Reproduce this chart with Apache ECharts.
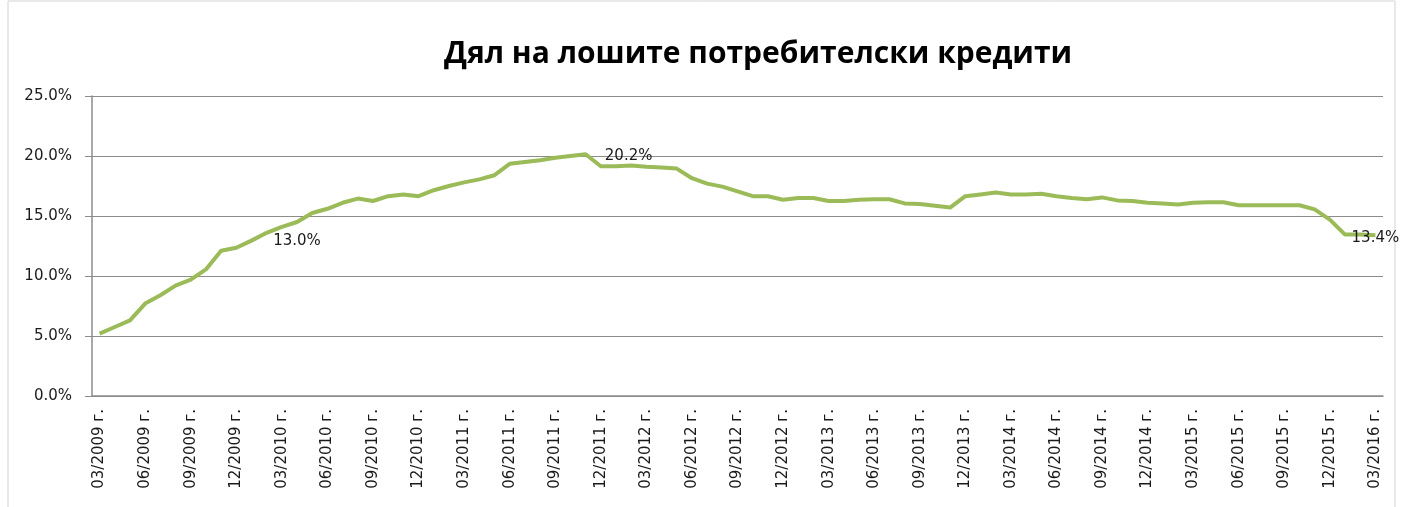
<!DOCTYPE html>
<html>
<head>
<meta charset="utf-8">
<script src="https://cdn.jsdelivr.net/npm/echarts@6/dist/echarts.min.js"></script>
<style>
  html, body { margin: 0; padding: 0; background: #fff; }
  #chart { width: 1402px; height: 507px; }
</style>
</head>
<body>
<div id="chart"></div>
<script>
// monthly, 03/2009 .. 03/2016
const months = [];
for (let y = 2009; y <= 2016; y++) {
    for (let m = 1; m <= 12; m++) {
        if ((y === 2009 && m < 3) || (y === 2016 && m > 3)) continue;
        months.push(String(m).padStart(2, "0") + "/" + y + " г.");
    }
}

// share of bad consumer loans, %
const badLoansShare = [
    5.2, 5.75, 6.3, 7.7, 8.4, 9.2, 9.7, 10.55, 12.1, 12.35, 12.95, 13.6,
    14.1, 14.5, 15.25, 15.6, 16.1, 16.45, 16.25, 16.65, 16.8, 16.65, 17.15, 17.5,
    17.8, 18.05, 18.4, 19.35, 19.5, 19.65, 19.85, 20.0, 20.15, 19.15, 19.15, 19.2,
    19.1, 19.05, 18.95, 18.15, 17.7, 17.45, 17.05, 16.65, 16.65, 16.35, 16.5, 16.5,
    16.25, 16.25, 16.35, 16.4, 16.4, 16.05, 16.0, 15.85, 15.7, 16.65, 16.8, 16.95,
    16.8, 16.8, 16.85, 16.65, 16.5, 16.4, 16.55, 16.3, 16.25, 16.1, 16.05, 15.95,
    16.1, 16.15, 16.15, 15.9, 15.9, 15.9, 15.9, 15.9, 15.55, 14.7, 13.45, 13.45,
    13.4
];

// data labels as they appear on the chart
const labelIndex = [13, 32, 84];
const labelText = ["13.0%", "20.2%", "13.4%"];
const labelOffset = [[0, 19], [43, 2], [0, 3]];

const yTicks = [0, 5, 10, 15, 20, 25];

const chart = echarts.init(document.getElementById("chart"));
const font = "DejaVu Sans";

const seriesData = badLoansShare.map((v, i) => {
    const k = labelIndex.indexOf(i);
    if (k < 0) return v;
    return {
        value: v,
        label: {
            show: true,
            position: "inside",
            offset: labelOffset[k],
            formatter: labelText[k],
            fontFamily: font,
            fontSize: 15,
            color: "#1a1a1a"
        }
    };
});

chart.setOption({
    animation: false,
    title: {
        text: "Дял на лошите потребителски кредити",
        left: 439,
        top: 34,
        textStyle: {
            fontFamily: "Open Sans",
            fontSize: 30,
            fontWeight: "bold",
            color: "#000"
        }
    },
    graphic: [{
        type: "rect",
        shape: { x: 8, y: 1, width: 1387, height: 540 },
        style: { fill: "none", stroke: "#d4d4d4", lineWidth: 1 }
    }],
    grid: { left: 92, right: 19, top: 96, bottom: 111 },
    xAxis: {
        type: "category",
        data: months,
        boundaryGap: true,
        axisLine: { lineStyle: { color: "#8c8c8c", width: 1.5 } },
        axisTick: { interval: 2, length: 5, lineStyle: { color: "#8c8c8c" } },
        axisLabel: {
            interval: 2,
            rotate: 90,
            margin: 13,
            fontFamily: font,
            fontSize: 15,
            color: "#1a1a1a"
        }
    },
    yAxis: {
        type: "value",
        min: yTicks[0],
        max: yTicks[yTicks.length - 1],
        interval: 5,
        axisLine: { show: true, lineStyle: { color: "#8c8c8c", width: 1.5 } },
        axisTick: { show: true, length: 7, lineStyle: { color: "#8c8c8c" } },
        splitLine: { lineStyle: { color: "#8c8c8c", width: 1.2 } },
        axisLabel: {
            margin: 20,
            fontFamily: font,
            fontSize: 15,
            color: "#1a1a1a",
            formatter: v => v.toFixed(1) + "%"
        }
    },
    series: [{
        name: "Дял на лошите потребителски кредити",
        type: "line",
        data: seriesData,
        symbol: "circle",
        symbolSize: 0,
        showSymbol: true,
        lineStyle: { color: "#9bbb59", width: 4 },
        itemStyle: { color: "#9bbb59" }
    }]
});
</script>
</body>
</html>
